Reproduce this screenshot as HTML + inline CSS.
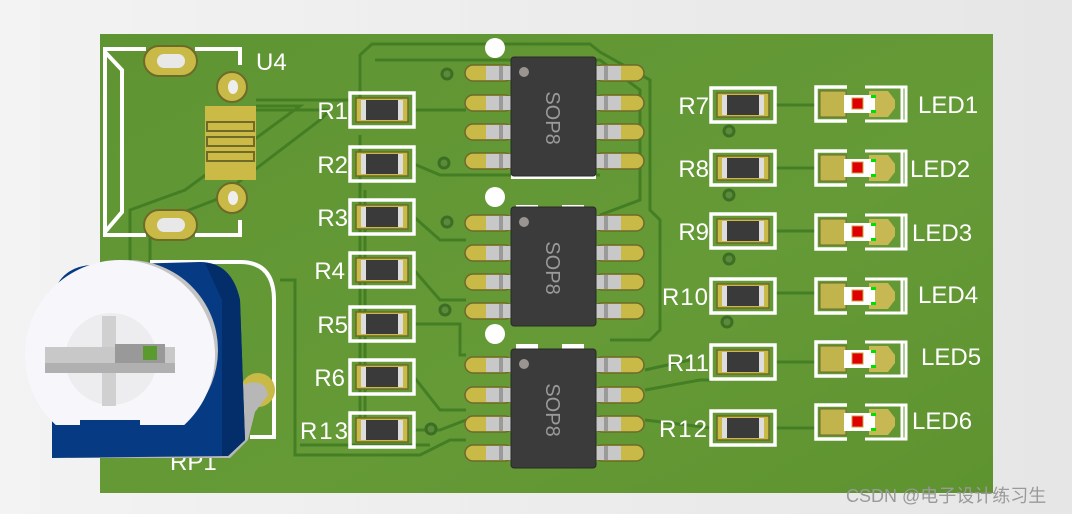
<!DOCTYPE html>
<html><head><meta charset="utf-8"><style>
html,body{margin:0;padding:0;width:1072px;height:514px;overflow:hidden;background:#ececec}
</style></head><body>
<svg width="1072" height="514" viewBox="0 0 1072 514" xmlns="http://www.w3.org/2000/svg" font-family="Liberation Sans, DejaVu Sans, sans-serif">
<defs>
<linearGradient id="bg" x1="0" y1="0" x2="1" y2="0"><stop offset="0" stop-color="#f3f3f3"/><stop offset="1" stop-color="#e6e6e6"/></linearGradient>
<linearGradient id="brd" x1="0" y1="0" x2="1" y2="1"><stop offset="0" stop-color="#5f9432"/><stop offset="0.6" stop-color="#659a37"/><stop offset="1" stop-color="#5e9330"/></linearGradient>
<clipPath id="discclip"><rect x="0" y="200" width="300" height="225"/></clipPath>
<g id="res">
<rect x="-32" y="-17" width="64" height="34" fill="none" stroke="#fff" stroke-width="3.5"/>
<rect x="-26" y="-12" width="52" height="24" fill="#c9b947" stroke="#6d6a2a" stroke-width="1.5"/>
<rect x="-21" y="-10" width="42" height="20" fill="#3a3a3a"/>
<rect x="-21" y="-10" width="5" height="20" fill="#ddd"/>
<rect x="16" y="-10" width="5" height="20" fill="#ddd"/>
</g>
<g id="led">
<path d="M-14,-17 H-45 V17 H-14" fill="none" stroke="#fff" stroke-width="3.5"/>
<path d="M4,-17 H45 V17 H4 M41,-17 V17" fill="none" stroke="#fff" stroke-width="3"/>
<rect x="-41" y="-13" width="26" height="26" fill="#c2b44c" stroke="#6e6b2c" stroke-width="1"/>
<path d="M8,-13 H27 L34,-4 V4 L27,13 H8 Z" fill="#c7b853"/>
<rect x="-17" y="-9" width="31" height="18" fill="#fff"/>
<rect x="-9" y="-6" width="11" height="11" fill="#e10000" stroke="#c8a040" stroke-width="1"/>
<rect x="10" y="-9" width="5" height="3" fill="#00e000"/>
<rect x="10" y="6" width="5" height="3" fill="#00e000"/>
</g>
<g id="pinL">
<rect x="-46" y="-8" width="48" height="16" rx="8" fill="#c9b947" stroke="#6d6a2a" stroke-width="1.5"/>
<rect x="-25" y="-7" width="25" height="14" fill="#c8c8c8"/>
<rect x="-12" y="-7" width="4" height="14" fill="#9a9a9a"/>
</g>
<g id="pinR">
<rect x="-2" y="-8" width="50" height="16" rx="8" fill="#c9b947" stroke="#6d6a2a" stroke-width="1.5"/>
<rect x="0" y="-7" width="25" height="14" fill="#c8c8c8"/>
<rect x="8" y="-7" width="4" height="14" fill="#9a9a9a"/>
</g>
<g id="ic">
<use href="#pinL" x="0" y="16"/><use href="#pinL" x="0" y="46"/><use href="#pinL" x="0" y="75"/><use href="#pinL" x="0" y="104"/>
<use href="#pinR" x="85" y="16"/><use href="#pinR" x="85" y="46"/><use href="#pinR" x="85" y="75"/><use href="#pinR" x="85" y="104"/>
<rect x="0" y="0" width="85" height="119" rx="3" fill="#3b3b3b" stroke="#2a2a2a" stroke-width="1"/>
<circle cx="13" cy="15" r="5" fill="#9a9590"/>
</g>
</defs>
<rect width="1072" height="514" fill="url(#bg)"/>
<rect x="100" y="34" width="893" height="459" fill="url(#brd)"/>

<!-- traces -->
<g fill="none" stroke="#3f7a22" stroke-width="3" opacity="0.85">
<path d="M360,100 V55 L372,44 H590 L600,52 L650,80 V210 L660,220 V330 L650,340 H610"/>
<path d="M375,60 H600 L640,90 V200 L600,215"/>
<path d="M256,100 H350 M256,110 H330 L320,120 L215,200 L150,225 V300"/>
<path d="M256,106 H300 L185,190 L130,210 V420"/>
<path d="M414,110 H466 M414,164 L440,175 H600 M414,217 L440,240 H466 M414,270 L440,300 H466 M414,324 H460 V355 H466 M414,377 L440,410 H466 M414,430 H440 L466,420"/>
<path d="M775,105 H815 M775,168 H815 M775,231 H815 M775,293 H815 M775,362 H815 M775,428 H815"/>
<path d="M645,390 L700,380 H711 M645,370 L690,360 M645,420 L711,428"/>
<path d="M280,280 H295 V455 H420 L450,440 H466"/>
<path d="M300,445 H430"/>
<path d="M360,135 V420 M365,190 V440"/>
</g>
<!-- vias -->
<g fill="#5a8a3a" stroke="#3c6f24" stroke-width="3">
<circle cx="447" cy="74" r="5"/><circle cx="444" cy="163" r="5"/><circle cx="447" cy="222" r="5"/><circle cx="445" cy="310" r="5"/><circle cx="431" cy="429" r="5"/>
<circle cx="729" cy="131" r="5"/><circle cx="729" cy="195" r="5"/><circle cx="729" cy="259" r="5"/><circle cx="727" cy="322" r="5"/>
</g>

<!-- U4 -->
<g fill="none" stroke="#fff" stroke-width="4">
<path d="M146,49 H105 V235 H146 M195,49 H240 V65 M195,235 H240 V220"/>
<path d="M105,52 L122,70 V212 L105,232"/>
</g>
<g>
<rect x="144" y="46" width="53" height="30" rx="15" fill="#c9b947" stroke="#6d6a2a" stroke-width="2"/>
<rect x="157" y="54" width="28" height="14" rx="7" fill="#e8e8e8"/>
<rect x="144" y="210" width="53" height="30" rx="15" fill="#c9b947" stroke="#6d6a2a" stroke-width="2"/>
<rect x="157" y="218" width="28" height="14" rx="7" fill="#e8e8e8"/>
<circle cx="232" cy="87" r="15" fill="#c9b947" stroke="#6d6a2a" stroke-width="2"/><ellipse cx="233" cy="87" rx="5" ry="7" fill="#eee"/>
<circle cx="232" cy="198" r="15" fill="#c9b947" stroke="#6d6a2a" stroke-width="2"/><ellipse cx="233" cy="198" rx="5" ry="7" fill="#eee"/>
<rect x="205" y="106" width="51" height="74" fill="#cbbb46"/>
<rect x="207" y="122" width="47" height="9" fill="#cbbb46" stroke="#6d6a2a" stroke-width="2"/>
<rect x="207" y="137" width="47" height="9" fill="#cbbb46" stroke="#6d6a2a" stroke-width="2"/>
<rect x="207" y="152" width="47" height="9" fill="#cbbb46" stroke="#6d6a2a" stroke-width="2"/>
</g>
<text x="256" y="70" font-size="24" fill="#fff">U4</text>

<!-- resistors left -->
<use href="#res" x="382" y="110"/><use href="#res" x="382" y="164"/><use href="#res" x="382" y="217"/><use href="#res" x="382" y="270"/><use href="#res" x="382" y="324"/><use href="#res" x="382" y="377"/><use href="#res" x="382" y="430"/>
<g font-size="24" fill="#fff" text-anchor="end">
<text x="348" y="119">R1</text><text x="348" y="173">R2</text><text x="348" y="226">R3</text><text x="345" y="279">R4</text><text x="348" y="333">R5</text><text x="345" y="386">R6</text><text x="350" y="439" letter-spacing="2">R13</text>
</g>

<!-- ICs -->
<circle cx="495" cy="48" r="10" fill="#fff"/><circle cx="495" cy="197" r="10" fill="#fff"/><circle cx="495" cy="334" r="10" fill="#fff"/>
<rect x="516" y="205" width="22" height="6" fill="#fff"/><rect x="562" y="205" width="22" height="6" fill="#fff"/>
<rect x="516" y="344" width="22" height="6" fill="#fff"/><rect x="562" y="344" width="22" height="6" fill="#fff"/>
<rect x="511" y="173" width="85" height="6" fill="#fff"/>
<use href="#ic" x="511" y="57"/><use href="#ic" x="511" y="207"/><use href="#ic" x="511" y="349"/>
<g font-size="20" fill="#9a9a9a" text-anchor="middle">
<text transform="translate(546,118) rotate(90)">SOP8</text>
<text transform="translate(546,268) rotate(90)">SOP8</text>
<text transform="translate(546,410) rotate(90)">SOP8</text>
</g>

<!-- right resistors -->
<use href="#res" x="743" y="105"/><use href="#res" x="743" y="168"/><use href="#res" x="743" y="231"/><use href="#res" x="743" y="296"/><use href="#res" x="743" y="362"/><use href="#res" x="743" y="428"/>
<g font-size="24" fill="#fff" text-anchor="end">
<text x="709" y="114">R7</text><text x="709" y="177">R8</text><text x="709" y="240">R9</text><text x="709" y="305" letter-spacing="1">R10</text><text x="709" y="371">R11</text><text x="709" y="437" letter-spacing="2">R12</text>
</g>
<!-- LEDs -->
<use href="#led" x="861" y="104"/><use href="#led" x="861" y="168"/><use href="#led" x="861" y="232"/><use href="#led" x="861" y="296"/><use href="#led" x="861" y="359"/><use href="#led" x="861" y="422"/>
<g font-size="24" fill="#fff">
<text x="918" y="113">LED1</text><text x="910" y="177">LED2</text><text x="912" y="241">LED3</text><text x="918" y="303">LED4</text><text x="921" y="365">LED5</text><text x="912" y="429">LED6</text>
</g>

<!-- RP1 -->
<path d="M150,262 H240 Q274,262 274,300 V437 H250" fill="none" stroke="#fff" stroke-width="4"/>
<circle cx="258" cy="390" r="17" fill="#c9b947"/>
<text x="170" y="470" font-size="24" fill="#fff">RP1</text>
<path d="M245,384 Q265,378 268,395 L255,412 L248,440 L230,458 H70 V440 Z" fill="#b7b7b7"/>
<path d="M52,458 V300 Q58,268 90,265 L200,262 Q232,262 240,300 L245,440 L228,456 Z" fill="#063a82"/>
<path d="M205,263 Q232,265 240,300 L245,440 L228,456 H222 L222,300 Z" fill="#032e6a"/>
<ellipse cx="95" cy="272" rx="12" ry="5" fill="#b46a22"/>
<circle cx="128" cy="350" r="90" fill="#c4c4c4" clip-path="url(#discclip)"/>
<circle cx="120" cy="355" r="95" fill="#f7f7fb" clip-path="url(#discclip)"/>
<path d="M80,420 H140 V428 H80 Z" fill="#063a82"/>
<circle cx="111" cy="359" r="46" fill="#ededf0"/>
<rect x="102" y="316" width="14" height="90" fill="#d0d0d0"/>
<rect x="45" y="347" width="130" height="26" fill="#c8c8c8"/>
<rect x="115" y="344" width="50" height="22" fill="#999"/>
<rect x="143" y="346" width="14" height="14" fill="#5a9a2e"/>
<rect x="45" y="363" width="130" height="10" fill="#b0b0b0"/>

<text x="846" y="502" font-size="18" fill="#9a9a9a" font-family="Liberation Sans, Noto Sans CJK SC, sans-serif">CSDN @电子设计练习生</text>
</svg>
</body></html>
